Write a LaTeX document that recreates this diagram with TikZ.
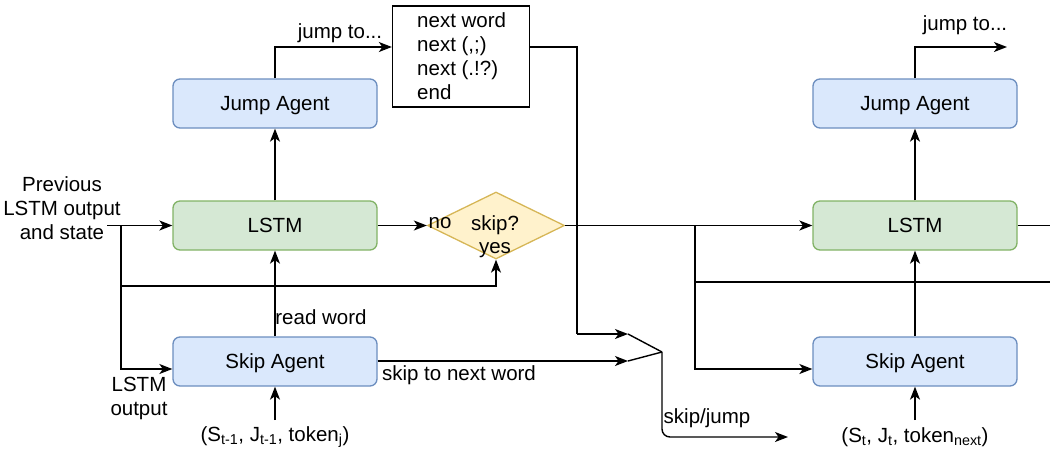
\documentclass[tikz,border=0pt]{standalone}
\usepackage{fontspec}
\setmainfont{Liberation Sans}
\usetikzlibrary{arrows.meta,shapes.geometric}
\definecolor{agentF}{HTML}{DAE8FC}
\definecolor{agentD}{HTML}{6C8EBF}
\definecolor{lstmF}{HTML}{D5E8D4}
\definecolor{lstmD}{HTML}{82B366}
\definecolor{decF}{HTML}{FFF2CC}
\definecolor{decD}{HTML}{D6B656}
\tikzset{
 agent/.style={draw=agentD, fill=agentF, rounded corners=7pt, minimum width=204pt, minimum height=49pt, line width=1.3pt, inner sep=0pt, text height=14.6pt, text depth=0pt},
 lstm/.style={agent, draw=lstmD, fill=lstmF},
 conn/.style={line width=1.4pt, -{Stealth[length=13pt,width=10pt,inset=3.5pt]}},
 plain/.style={line width=1.4pt},
 lbl/.style={inner sep=0pt, align=center}
}
\begin{document}
\begin{tikzpicture}[x=1pt,y=-1pt,font=\fontsize{20.5}{24}\selectfont]
\useasboundingbox (0,0) rectangle (1050,448);
% boxes
\node[agent] (jaL) at (275,103.5) {Jump Agent};
\node[lstm] (lsL) at (275,225.5) {LSTM};
\node[agent] (saL) at (275,361.5) {Skip Agent};
\node[agent] (jaR) at (915,103.5) {Jump Agent};
\node[lstm] (lsR) at (915,225.5) {LSTM};
\node[agent] (saR) at (915,361.5) {Skip Agent};
\node[draw, line width=1.3pt, minimum width=137pt, minimum height=101pt, inner sep=0pt] (list) at (461,56.5) {};
\node[lbl, align=left, anchor=west] (listtxt) at (417,56) {next word\\next (,;)\\next (.!?)\\end};
\node[diamond, draw=decD, fill=decF, line width=1.3pt, minimum width=137pt, minimum height=67pt, inner sep=0pt, aspect=2] (dia) at (496,225.5) {};
\node[lbl] (skq) at (495,225) {skip?};
\node[lbl] (yes) at (495,250) {yes};
\node[lbl] (no) at (440,223) {no};
% labels
\node[lbl] (prev) at (62,208) {Previous\\LSTM output\\and state};
\node[lbl] (lout) at (139,398) {LSTM\\output};
\node[lbl] (rw) at (321,317) {read word};
\node[lbl] (jt1) at (340,33) {jump to...};
\node[lbl] (jt2) at (965,25) {jump to...};
\node[lbl] (stnw) at (459,375) {skip to next word};
\node[lbl] (sj) at (707,418) {skip/jump};
\node[lbl] (tokL) at (275,437) {(S\textsubscript{t-1}, J\textsubscript{t-1}, token\textsubscript{j})};
\node[lbl] (tokR) at (915,437) {(S\textsubscript{t}, J\textsubscript{t}, token\textsubscript{next})};
% coordinates
\coordinate (pst) at (107,225.5);
\coordinate (b1) at (121,225.5);
\coordinate (b2) at (121,286);
\coordinate (c577) at (577,334);
\coordinate (m1) at (628,334);
\coordinate (m2) at (628,361);
\coordinate (mg) at (662,352);
\coordinate (out) at (788,437);
\coordinate (b3) at (695,225.5);
\coordinate (b4) at (695,282);
\coordinate (e1) at (1050,282);
\coordinate (e2) at (1050,225.5);
\coordinate (jtR) at (1007,47);
\coordinate (inL) at (275,420);
\coordinate (inR) at (915,420);
% connectors left
\draw[conn] (pst) -- (lsL.west);
\draw[conn] (b1) |- ([yshift=-7.5pt]saL.west);
\draw[conn] (b2) -| (dia.south);
\draw[conn] (lsL.east) -- (dia.west);
\draw[conn] (lsL) -- (jaL);
\draw[conn] (saL) -- (lsL);
\draw[conn] (jaL.north) |- ([yshift=9.5pt]list.west);
\draw[plain] ([yshift=9.5pt]list.east) -| (c577);
\draw[conn] (c577) -- (m1);
\draw[plain] (m1) -- (mg);
\draw[conn] (saL.east |- m2) -- (m2);
\draw[plain] (m2) -- (mg);
\draw[conn, rounded corners=8pt] (mg) |- (out);
\draw[conn] (inL) -- (saL.south);
% connectors right
\draw[conn] (dia.east) -- (lsR.west);
\draw[conn] (b3) |- ([yshift=-7.5pt]saR.west);
\draw[plain] (b4) -- (e1);
\draw[plain] (lsR.east) -- (e2);
\draw[conn] (lsR) -- (jaR);
\draw[conn] (saR) -- (lsR);
\draw[conn] (jaR.north) |- (jtR);
\draw[conn] (inR) -- (saR.south);
\end{tikzpicture}
\end{document}
